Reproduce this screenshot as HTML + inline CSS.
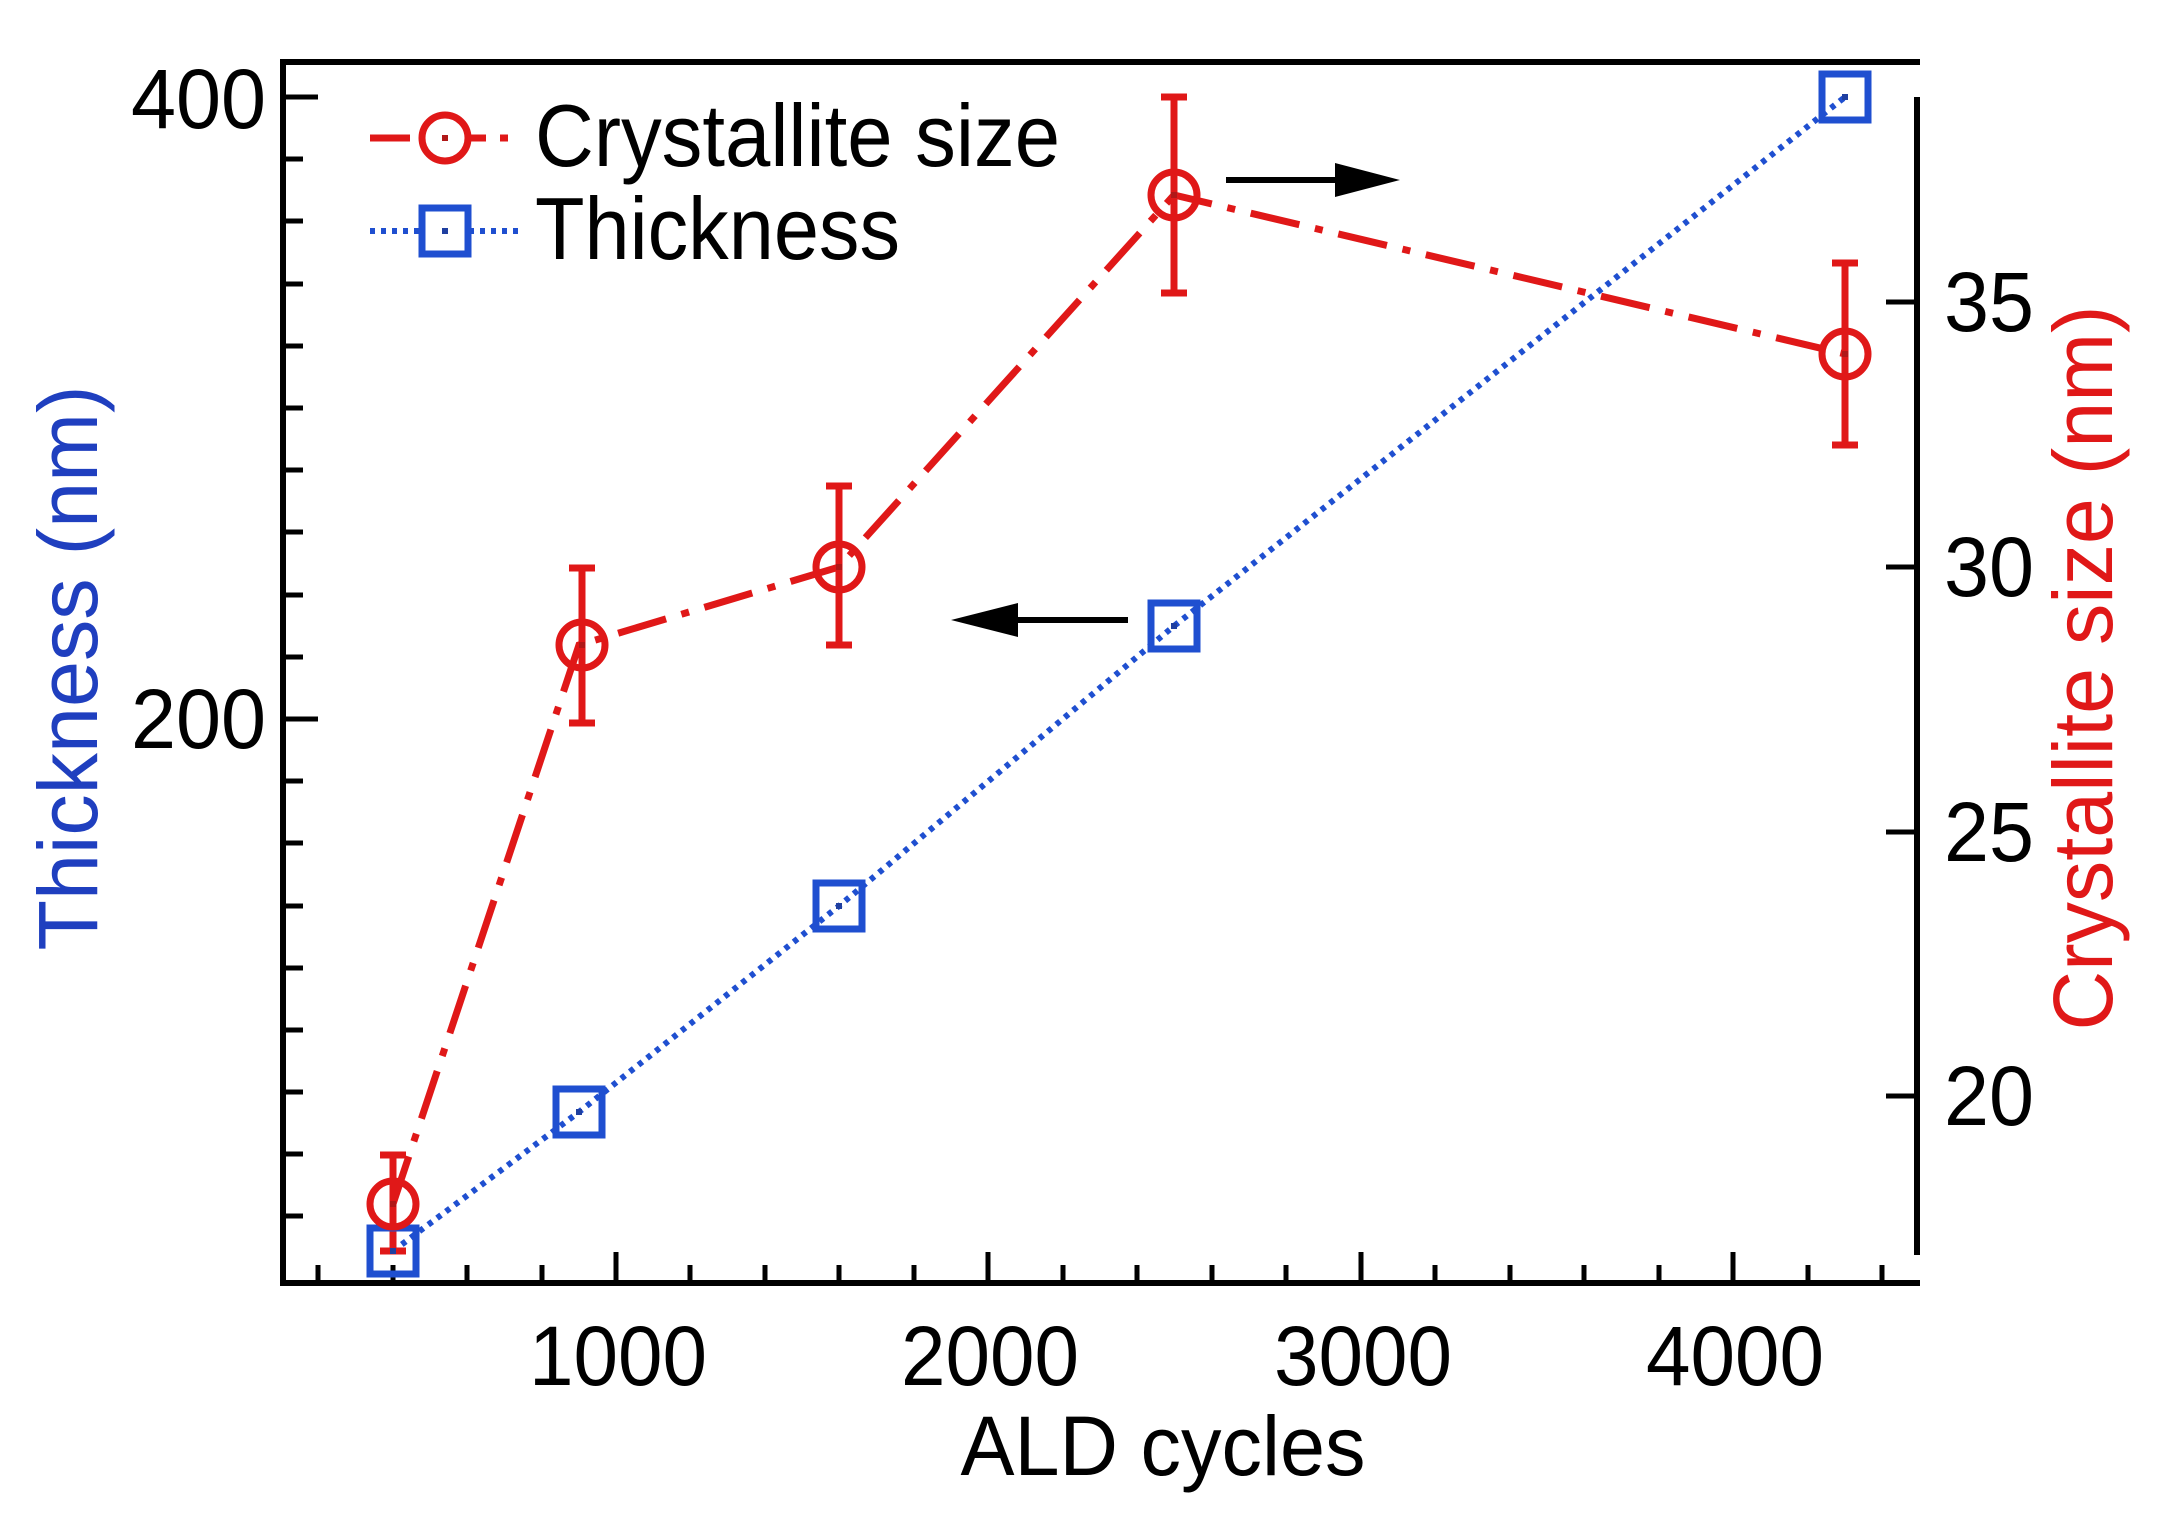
<!DOCTYPE html>
<html><head><meta charset="utf-8"><style>html,body{margin:0;padding:0;background:#fff}svg{display:block}</style></head>
<body>
<svg width="2164" height="1529" viewBox="0 0 2164 1529" xmlns="http://www.w3.org/2000/svg" font-family="Liberation Sans, Arial, sans-serif">
<rect width="2164" height="1529" fill="#fff"/>
<g stroke="#000" stroke-width="6" fill="none">
<line x1="283" y1="62" x2="283" y2="1286"/>
<line x1="280" y1="1283" x2="1920" y2="1283"/>
<line x1="280" y1="62" x2="1920" y2="62"/>
<line x1="1917" y1="97" x2="1917" y2="1255"/>
</g>
<g stroke="#000" stroke-width="5">
<line x1="283" y1="97" x2="318" y2="97"/><line x1="283" y1="719" x2="318" y2="719"/>
<line x1="283" y1="159" x2="303" y2="159"/><line x1="283" y1="221" x2="303" y2="221"/><line x1="283" y1="284" x2="303" y2="284"/><line x1="283" y1="346" x2="303" y2="346"/><line x1="283" y1="408" x2="303" y2="408"/><line x1="283" y1="470" x2="303" y2="470"/><line x1="283" y1="532" x2="303" y2="532"/><line x1="283" y1="595" x2="303" y2="595"/><line x1="283" y1="657" x2="303" y2="657"/>
<line x1="283" y1="781" x2="303" y2="781"/><line x1="283" y1="843" x2="303" y2="843"/><line x1="283" y1="906" x2="303" y2="906"/><line x1="283" y1="968" x2="303" y2="968"/><line x1="283" y1="1030" x2="303" y2="1030"/><line x1="283" y1="1092" x2="303" y2="1092"/><line x1="283" y1="1154" x2="303" y2="1154"/><line x1="283" y1="1216" x2="303" y2="1216"/>
<line x1="318" y1="1283" x2="318" y2="1265"/><line x1="393" y1="1283" x2="393" y2="1265"/><line x1="467" y1="1283" x2="467" y2="1265"/><line x1="542" y1="1283" x2="542" y2="1265"/>
<line x1="616" y1="1283" x2="616" y2="1252"/>
<line x1="690" y1="1283" x2="690" y2="1265"/><line x1="765" y1="1283" x2="765" y2="1265"/><line x1="839" y1="1283" x2="839" y2="1265"/><line x1="914" y1="1283" x2="914" y2="1265"/>
<line x1="988" y1="1283" x2="988" y2="1252"/>
<line x1="1063" y1="1283" x2="1063" y2="1265"/><line x1="1137" y1="1283" x2="1137" y2="1265"/><line x1="1212" y1="1283" x2="1212" y2="1265"/><line x1="1286" y1="1283" x2="1286" y2="1265"/>
<line x1="1361" y1="1283" x2="1361" y2="1252"/>
<line x1="1435" y1="1283" x2="1435" y2="1265"/><line x1="1510" y1="1283" x2="1510" y2="1265"/><line x1="1584" y1="1283" x2="1584" y2="1265"/><line x1="1659" y1="1283" x2="1659" y2="1265"/>
<line x1="1733" y1="1283" x2="1733" y2="1252"/>
<line x1="1808" y1="1283" x2="1808" y2="1265"/><line x1="1882" y1="1283" x2="1882" y2="1265"/>
<line x1="1917" y1="302" x2="1886" y2="302"/><line x1="1917" y1="567" x2="1886" y2="567"/><line x1="1917" y1="832" x2="1886" y2="832"/><line x1="1917" y1="1096" x2="1886" y2="1096"/>
</g>
<g font-size="84" fill="#000">
<text x="266" y="128" text-anchor="end" textLength="135" lengthAdjust="spacingAndGlyphs">400</text>
<text x="266" y="748" text-anchor="end" textLength="135" lengthAdjust="spacingAndGlyphs">200</text>
<text x="618" y="1385" text-anchor="middle" textLength="178" lengthAdjust="spacingAndGlyphs">1000</text>
<text x="990" y="1385" text-anchor="middle" textLength="178" lengthAdjust="spacingAndGlyphs">2000</text>
<text x="1363" y="1385" text-anchor="middle" textLength="178" lengthAdjust="spacingAndGlyphs">3000</text>
<text x="1735" y="1385" text-anchor="middle" textLength="178" lengthAdjust="spacingAndGlyphs">4000</text>
<text x="1944" y="331" textLength="90" lengthAdjust="spacingAndGlyphs">35</text>
<text x="1944" y="596" textLength="90" lengthAdjust="spacingAndGlyphs">30</text>
<text x="1944" y="861" textLength="90" lengthAdjust="spacingAndGlyphs">25</text>
<text x="1944" y="1125" textLength="90" lengthAdjust="spacingAndGlyphs">20</text>
<text x="1163" y="1475" text-anchor="middle" textLength="405" lengthAdjust="spacingAndGlyphs">ALD cycles</text>
</g>
<text transform="translate(97,668) rotate(-90)" font-size="84" fill="#1f3fbf" text-anchor="middle" textLength="565" lengthAdjust="spacingAndGlyphs">Thickness (nm)</text>
<text transform="translate(2112,668) rotate(-90)" font-size="84" fill="#e01818" text-anchor="middle" textLength="725" lengthAdjust="spacingAndGlyphs">Crystallite size (nm)</text>
<polyline points="393,1251 579,1112 839,906 1174,626 1845,97" fill="none" stroke="#1f4fd0" stroke-width="6" stroke-dasharray="5,6"/>
<polyline points="393,1204 579,645 839,567 1174,195 1845,354" fill="none" stroke="#e01818" stroke-width="7" stroke-dasharray="50,16,8,16"/>
<g stroke="#e01818" stroke-width="7">
<line x1="393" y1="1155" x2="393" y2="1251"/><line x1="380" y1="1155" x2="406" y2="1155"/><line x1="380" y1="1251" x2="406" y2="1251"/>
<line x1="582" y1="568" x2="582" y2="723"/><line x1="569" y1="568" x2="595" y2="568"/><line x1="569" y1="723" x2="595" y2="723"/>
<line x1="839" y1="486" x2="839" y2="645"/><line x1="826" y1="486" x2="852" y2="486"/><line x1="826" y1="645" x2="852" y2="645"/>
<line x1="1174" y1="97" x2="1174" y2="293"/><line x1="1161" y1="97" x2="1187" y2="97"/><line x1="1161" y1="293" x2="1187" y2="293"/>
<line x1="1845" y1="263" x2="1845" y2="445"/><line x1="1832" y1="263" x2="1858" y2="263"/><line x1="1832" y1="445" x2="1858" y2="445"/>
</g>
<g fill="none" stroke="#1f4fd0" stroke-width="7">
<rect x="370" y="1228" width="46" height="46"/><rect x="556" y="1089" width="46" height="46"/><rect x="816" y="883" width="46" height="46"/><rect x="1151" y="603" width="46" height="46"/><rect x="1822" y="74" width="46" height="46"/>
</g>
<g fill="#1f3fa0"><rect x="390" y="1248" width="6" height="6"/><rect x="576" y="1109" width="6" height="6"/><rect x="836" y="903" width="6" height="6"/><rect x="1171" y="623" width="6" height="6"/><rect x="1842" y="94" width="6" height="6"/></g>
<g fill="none" stroke="#e01818" stroke-width="7">
<circle cx="393" cy="1204" r="23"/><circle cx="582" cy="645" r="23"/><circle cx="839" cy="567" r="23"/><circle cx="1174" cy="195" r="23"/><circle cx="1845" cy="354" r="23"/>
</g>
<g fill="#b01818"><rect x="390" y="1201" width="6" height="6"/><rect x="579" y="642" width="6" height="6"/><rect x="836" y="564" width="6" height="6"/><rect x="1171" y="192" width="6" height="6"/><rect x="1842" y="351" width="6" height="6"/></g>
<line x1="1226" y1="180" x2="1340" y2="180" stroke="#000" stroke-width="6"/>
<polygon points="1335,163 1400,180 1335,197" fill="#000"/>
<line x1="1128" y1="620" x2="1010" y2="620" stroke="#000" stroke-width="6"/>
<polygon points="1018,603 951,620 1018,637" fill="#000"/>
<line x1="370" y1="138" x2="518" y2="138" stroke="#e01818" stroke-width="7" stroke-dasharray="40,14,8,14"/>
<circle cx="445" cy="138" r="23" fill="#fff" stroke="#e01818" stroke-width="7"/>
<rect x="442" y="135" width="6" height="6" fill="#b01818"/>
<text x="535" y="166" font-size="88" fill="#000" textLength="525" lengthAdjust="spacingAndGlyphs">Crystallite size</text>
<line x1="370" y1="231" x2="518" y2="231" stroke="#1f4fd0" stroke-width="6" stroke-dasharray="5,6"/>
<rect x="422" y="208" width="46" height="46" fill="#fff" stroke="#1f4fd0" stroke-width="7"/>
<rect x="442" y="228" width="6" height="6" fill="#1f3fa0"/>
<text x="535" y="259" font-size="88" fill="#000" textLength="365" lengthAdjust="spacingAndGlyphs">Thickness</text>
</svg>
</body></html>
